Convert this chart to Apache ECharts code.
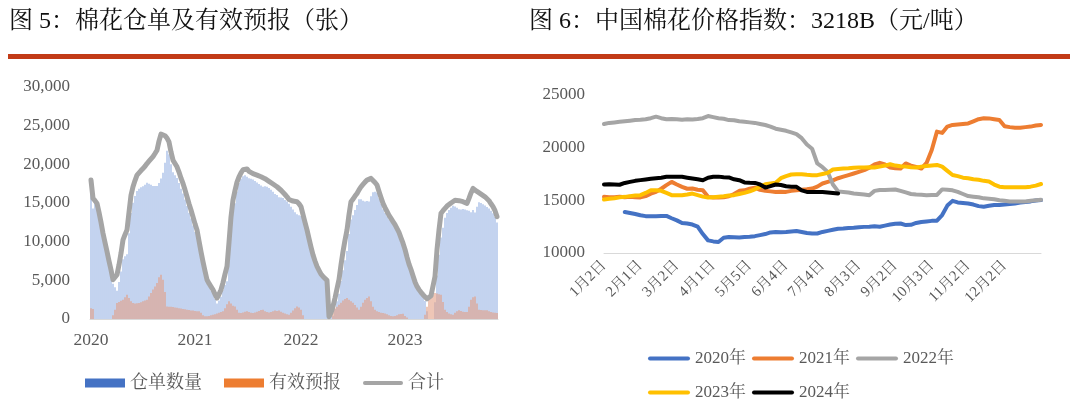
<!DOCTYPE html>
<html><head><meta charset="utf-8">
<script src="https://cdn.jsdelivr.net/npm/echarts/dist/echarts.min.js"></script>
<style>html,body{margin:0;padding:0;background:#fff}#c{width:1070px;height:408px}</style>
</head><body><div id="c"></div>
<script>
// ---------- Figure 5: cotton warehouse receipts (weekly, from 2020-01-03) ----------
const warrant = [
16560,14300,15300,14950,13800,12500,11090,9900,8720,7500,
6360,4570,4100,3660,4800,6150,7740,8100,8380,11100,
13700,15040,15900,16560,16840,17050,17170,17350,17610,17500,
17350,17200,17200,17190,17600,18180,18910,20200,21770,21300,
20020,18990,18600,18230,17600,16850,16230,15450,14600,13750,
13000,12100,11250,10520,9110,7900,6900,5860,4720,4200,
3700,3220,2600,2010,2400,2880,3710,4400,4890,7620,
11200,13680,14970,16500,17590,18130,18450,18600,18410,18200,
18150,18030,17850,17660,17450,17250,17110,17150,17100,16950,
16700,16450,16150,16050,15750,15700,15660,15400,15200,14890,
14500,14150,13800,13540,13400,13320,13000,12500,11520,10400,
9300,8290,7500,6800,6300,5800,5500,5290,5000,300,
800,430,1300,2300,3250,4900,6320,7600,8790,11000,
12870,13400,14100,14740,15500,15500,15300,15210,15260,15180,
15880,16400,16450,16320,15600,14900,14180,13700,13300,12900,
12600,12260,11800,11450,10600,9850,9110,8600,7800,7100,
6400,5600,4800,4210,3800,3450,3140,2340,1000,0,
0,0,2150,5640,8300,10530,11800,13100,13700,14100,
14400,14640,14550,14380,14180,14150,14220,14150,14050,14000,
13810,14090,13780,14500,15100,15000,14830,14680,14480,14300,
14000,13670,13200,12470];
const forecast = [
1400,1300,0,0,0,0,0,0,0,0,
0,500,1200,2060,2200,2350,2490,2800,3140,2700,
2300,2060,2000,2050,2060,2150,2300,2400,2490,2900,
3350,3800,4200,4640,5400,5720,5070,3500,1630,1600,
1580,1550,1500,1450,1400,1350,1300,1250,1200,1150,
1100,1100,1050,1000,990,800,500,340,350,400,
500,560,600,700,800,900,990,1400,1900,2280,
2000,1700,1630,1200,800,770,850,950,990,900,
800,770,850,950,1050,1150,1200,1000,900,850,
900,1000,1100,1050,1100,950,800,700,600,560,
800,1100,1400,1630,1500,1200,500,0,0,0,
0,0,0,0,0,0,0,0,0,0,
0,1200,1400,1600,1850,2100,2400,2600,2710,2500,
2300,2100,1800,1500,1200,1600,2100,2490,2700,2920,
2300,1600,1200,1000,900,800,770,700,600,500,
400,340,400,500,600,650,690,400,200,0,
0,0,0,0,0,0,0,560,1600,2710,
3000,3200,3350,3300,3200,3140,2200,1200,900,700,
600,560,800,1000,1120,1050,950,900,900,1600,
2490,2800,2920,2000,1200,1150,1120,1120,1120,1000,
900,850,800,770];
const total = warrant.map((v, i) => v + forecast[i]);   // 合计 = 仓单 + 有效预报
const weekCats = warrant.map((_, i) => {
  const d = new Date(Date.UTC(2020, 0, 3) + i * 7 * 86400000);
  return d.getUTCFullYear() + '-' + String(d.getUTCMonth() + 1).padStart(2, '0') + '-' + String(d.getUTCDate()).padStart(2, '0');
});

// ---------- Figure 6: China Cotton Price Index 3218B ----------
const priceTickLabels = ['1月2日','2月1日','3月2日','4月1日','5月5日','6月4日','7月4日','8月3日','9月2日','10月3日','11月2日','12月2日'];
const priceCats = [];
priceTickLabels.forEach(t => { priceCats.push(t); for (let k = 1; k < 7; k++) priceCats.push(t + '+' + k); });
priceCats.push('12月31日');

const p2020 = [null,null,null,null,13900,13800,13700,13580,13500,13480,
13500,13510,13520,13300,13100,12850,12800,12700,12500,11800,
11200,11100,11050,11450,11520,11500,11480,11520,11550,11600,
11700,11800,11950,12000,11980,12000,12050,12090,12000,11900,
11850,11850,12000,12100,12200,12300,12320,12380,12400,12450,
12480,12500,12540,12500,12600,12700,12780,12800,12650,12680,
12850,12950,13000,13050,13070,13600,14500,14950,14800,14750,
14700,14600,14450,14400,14480,14550,14560,14600,14650,14700,
14780,14850,14900,14980,15030];
const p2021 = [15330,15300,15300,15350,15300,15350,15300,15280,15400,15640,
15800,16100,16440,16750,16500,16280,16100,16120,16000,15960,
15330,15260,15260,15300,15390,15600,15900,15950,16100,16210,
16000,15900,15850,15800,15820,15800,15900,15960,16000,16050,
16120,16300,16600,16750,16900,17100,17250,17400,17550,17700,
17860,18100,18400,18560,18400,18120,18050,18020,18500,18300,
18180,18020,18550,19780,21520,21400,22000,22160,22200,22250,
22300,22500,22700,22790,22780,22700,22630,22030,21950,21900,
21900,21950,22000,22100,22160];
const p2022 = [22240,22350,22400,22450,22500,22560,22620,22650,22700,22800,
22940,22800,22700,22720,22700,22650,22700,22680,22720,22800,
23000,22900,22800,22750,22620,22600,22500,22460,22400,22350,
22250,22150,22000,21800,21700,21600,21450,21290,20900,20300,
19900,18500,18150,17700,16500,15850,15800,15750,15650,15600,
15560,15490,15900,15980,15980,16000,16030,15900,15750,15600,
15550,15520,15490,15500,15510,16040,16000,15950,15800,15600,
15410,15350,15300,15190,15150,15100,15000,14950,14900,14880,
14880,14900,14950,15000,15050];
const p2023 = [15070,15150,15200,15280,15330,15400,15450,15490,15700,15960,
15950,15900,15700,15490,15480,15490,15550,15640,15500,15350,
15260,15300,15350,15390,15450,15490,15600,15710,15850,16050,
16300,16530,16600,16660,17100,17300,17450,17480,17480,17420,
17390,17390,17500,17610,17930,17980,18020,18050,18100,18120,
18120,18150,18120,18200,18300,18430,18300,18240,18200,18150,
18120,18200,18250,18300,18360,18200,17800,17410,17300,17150,
17090,17000,16950,16850,16780,16500,16300,16250,16240,16250,
16240,16250,16300,16400,16550];
const p2024 = [16500,16520,16500,16480,16650,16750,16850,16920,16980,17050,
17100,17150,17230,17250,17230,17230,17150,17070,17000,16910,
17150,17230,17250,17200,17170,17000,16910,16700,16660,16650,
16500,16210,16350,16500,16450,16340,16300,16280,15950,15800,
15800,15780,15800,15750,15700,15640];

const FONT = "'Liberation Serif', 'Noto Serif CJK SC', 'Noto Sans CJK SC', serif";
const AX = '#595959';
const LINE_ICON = 'path://M2,0h38a2,2 0 0 1 0,4h-38a2,2 0 0 1 0,-4z';
const yearTick = (idx, v) => v.slice(5, 7) === '01' && parseInt(v.slice(8), 10) <= 7;
const monthTick = (idx) => idx % 7 === 0 && idx < 84;

const priceSeries = [
  ['2020年', p2020, '#4472c4'],
  ['2021年', p2021, '#ed7d31'],
  ['2022年', p2022, '#a5a5a5'],
  ['2023年', p2023, '#ffc000'],
  ['2024年', p2024, '#000000']
].map(([name, data, color]) => ({
  name, type: 'line', xAxisIndex: 1, yAxisIndex: 1, data,
  symbol: 'none', showSymbol: false, connectNulls: false,
  lineStyle: { color, width: 4, cap: 'round', join: 'round' }, itemStyle: { color }
}));

const option = {
  animation: false,
  backgroundColor: '#fff',
  title: [
    { text: '图 5：棉花仓单及有效预报（张）', left: 9, top: 10, padding: 0,
      textStyle: { fontFamily: FONT, fontSize: 24, fontWeight: 'normal', color: '#111' } },
    { text: '图 6：中国棉花价格指数：3218B（元/吨）', left: 529, top: 10, padding: 0,
      textStyle: { fontFamily: FONT, fontSize: 24, fontWeight: 'normal', color: '#111' } }
  ],
  graphic: [
    { type: 'rect', left: 8, top: 54, shape: { width: 1062, height: 5 }, style: { fill: '#c23b17' }, silent: true }
  ],
  legend: [
    { left: 85, top: 374, padding: 0, itemWidth: 40, itemHeight: 9, itemGap: 22,
      textStyle: { fontFamily: FONT, fontSize: 18, color: AX },
      data: [
        { name: '仓单数量', icon: 'rect', itemStyle: { color: '#4472c4' } },
        { name: '有效预报', icon: 'rect', itemStyle: { color: '#ed7d31' } },
        { name: '合计', icon: LINE_ICON }
      ] },
    { left: 648, top: 350, padding: 0, itemWidth: 42, itemHeight: 12, itemGap: 6,
      textStyle: { fontFamily: FONT, fontSize: 17, color: AX },
      data: [
        { name: '2020年', icon: LINE_ICON },
        { name: '2021年', icon: LINE_ICON },
        { name: '2022年', icon: LINE_ICON }
      ] },
    { left: 648, top: 384, padding: 0, itemWidth: 42, itemHeight: 12, itemGap: 6,
      textStyle: { fontFamily: FONT, fontSize: 17, color: AX },
      data: [
        { name: '2023年', icon: LINE_ICON },
        { name: '2024年', icon: LINE_ICON }
      ] }
  ],
  grid: [
    { left: 90, top: 87, width: 408, height: 232 },
    { left: 604, top: 95, width: 437, height: 158 }
  ],
  xAxis: [
    { type: 'category', gridIndex: 0, data: weekCats, boundaryGap: true,
      axisLine: { lineStyle: { color: '#d9d9d9' } },
      axisTick: { interval: yearTick, alignWithLabel: true, length: 4, lineStyle: { color: '#bfbfbf' } },
      axisLabel: { interval: yearTick, formatter: v => v.slice(0, 4), fontFamily: FONT, fontSize: 17.5, color: AX, margin: 13 } },
    { type: 'category', gridIndex: 1, data: priceCats, boundaryGap: false,
      axisLine: { lineStyle: { color: '#d9d9d9' } },
      axisTick: { show: false },
      axisLabel: { interval: monthTick, rotate: 45, fontFamily: FONT, fontSize: 15, color: AX, margin: 10 } }
  ],
  yAxis: [
    { type: 'value', gridIndex: 0, min: 0, max: 30000, interval: 5000,
      splitLine: { show: false }, axisLine: { show: false }, axisTick: { show: false },
      axisLabel: { formatter: v => v.toLocaleString('en-US'), fontFamily: FONT, fontSize: 17, color: AX, margin: 20 } },
    { type: 'value', gridIndex: 1, min: 10000, max: 25000, interval: 5000,
      splitLine: { show: false }, axisLine: { show: false }, axisTick: { show: false },
      axisLabel: { formatter: v => String(v), fontFamily: FONT, fontSize: 17, color: AX, margin: 19 } }
  ],
  series: [
    { name: '仓单数量', type: 'bar', xAxisIndex: 0, yAxisIndex: 0, data: warrant,
      barWidth: 1.2, barGap: '-100%', itemStyle: { color: '#9cb6e4' } },
    { name: '有效预报', type: 'bar', xAxisIndex: 0, yAxisIndex: 0, data: forecast,
      barWidth: 1.2, barGap: '-100%', itemStyle: { color: '#e3a086' } },
    { name: '合计', type: 'line', xAxisIndex: 0, yAxisIndex: 0, data: total,
      symbol: 'none', showSymbol: false,
      lineStyle: { color: '#a5a5a5', width: 5, join: 'round', cap: 'round' }, itemStyle: { color: '#a5a5a5' } },
    ...priceSeries
  ]
};

const chart = echarts.init(document.getElementById('c'), null, { renderer: 'canvas' });
chart.setOption(option);
</script></body></html>
